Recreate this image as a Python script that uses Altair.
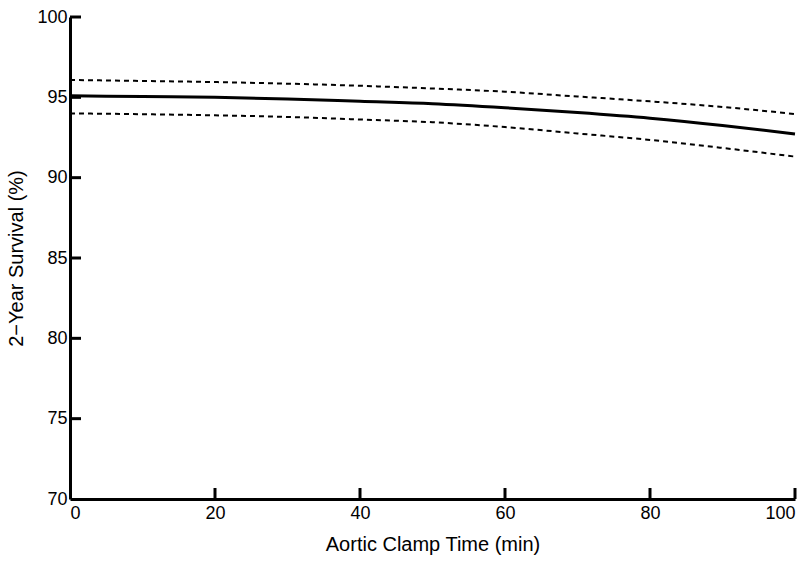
import altair as alt
import pandas as pd

clamp_time = [0, 10, 20, 30, 40, 50, 60, 70, 80, 90, 100]
survival = [95.10, 95.05, 95.00, 94.90, 94.75, 94.60, 94.35, 94.05, 93.70, 93.25, 92.72]
upper_ci = [96.08, 96.02, 95.95, 95.85, 95.72, 95.55, 95.35, 95.05, 94.75, 94.40, 93.96]
lower_ci = [94.00, 93.95, 93.88, 93.78, 93.62, 93.45, 93.15, 92.75, 92.35, 91.85, 91.31]

x_ticks = [20, 40, 60, 80, 100]
y_ticks = [75, 80, 85, 90, 95, 100]

long = pd.concat([
    pd.DataFrame({"t": clamp_time, "v": survival, "k": "est"}),
    pd.DataFrame({"t": clamp_time, "v": upper_ci, "k": "upper"}),
    pd.DataFrame({"t": clamp_time, "v": lower_ci, "k": "lower"}),
])

FONT = "Liberation Sans"
xs = alt.Scale(domain=[0, 100], nice=False)
ys = alt.Scale(domain=[70, 100], nice=False)

x_axis = alt.Axis(values=[0, 20, 40, 60, 80, 100], tickSize=0, labelPadding=5,
                  title="Aortic Clamp Time (min)", titlePadding=12,
                  domainWidth=3, domainColor="black", grid=False,
                  labelFont=FONT, labelFontSize=18, labelColor="black",
                  titleFont=FONT, titleFontSize=20, titleFontWeight="normal", titleColor="black")
y_axis = alt.Axis(values=[70, 75, 80, 85, 90, 95, 100], tickSize=0, labelPadding=3,
                  title="2\u2212Year Survival (%)", titlePadding=10,
                  domainWidth=3, domainColor="black", grid=False,
                  labelFont=FONT, labelFontSize=18, labelColor="black",
                  titleFont=FONT, titleFontSize=20, titleFontWeight="normal", titleColor="black")

base = alt.Chart(long)

est = base.transform_filter(alt.datum.k == "est").mark_line(
    color="black", strokeWidth=3, interpolate="monotone"
).encode(x=alt.X("t:Q", scale=xs, axis=x_axis), y=alt.Y("v:Q", scale=ys, axis=y_axis))

upper = base.transform_filter(alt.datum.k == "upper").mark_line(
    color="black", strokeWidth=2, strokeDash=[5, 4], interpolate="monotone"
).encode(x=alt.X("t:Q", scale=xs), y=alt.Y("v:Q", scale=ys))

lower = base.transform_filter(alt.datum.k == "lower").mark_line(
    color="black", strokeWidth=2, strokeDash=[5, 4], interpolate="monotone"
).encode(x=alt.X("t:Q", scale=xs), y=alt.Y("v:Q", scale=ys))

xt = alt.Chart(pd.DataFrame({"x": x_ticks})).mark_rule(color="black", strokeWidth=3).encode(
    x=alt.X("x:Q", scale=xs), y=alt.value(482), y2=alt.value(471))
yt = alt.Chart(pd.DataFrame({"y": y_ticks})).mark_rule(color="black", strokeWidth=3).encode(
    y=alt.Y("y:Q", scale=ys), x=alt.value(0), x2=alt.value(11))

chart = alt.layer(est, upper, lower, xt, yt).properties(
    width=725, height=482,
    autosize=alt.AutoSizeParams(type="none"),
    padding={"left": 70, "top": 17, "right": 14, "bottom": 70},
    background="white",
).configure_view(stroke=None)

chart.save("out.html", embed_options={"renderer": "svg", "actions": False})
